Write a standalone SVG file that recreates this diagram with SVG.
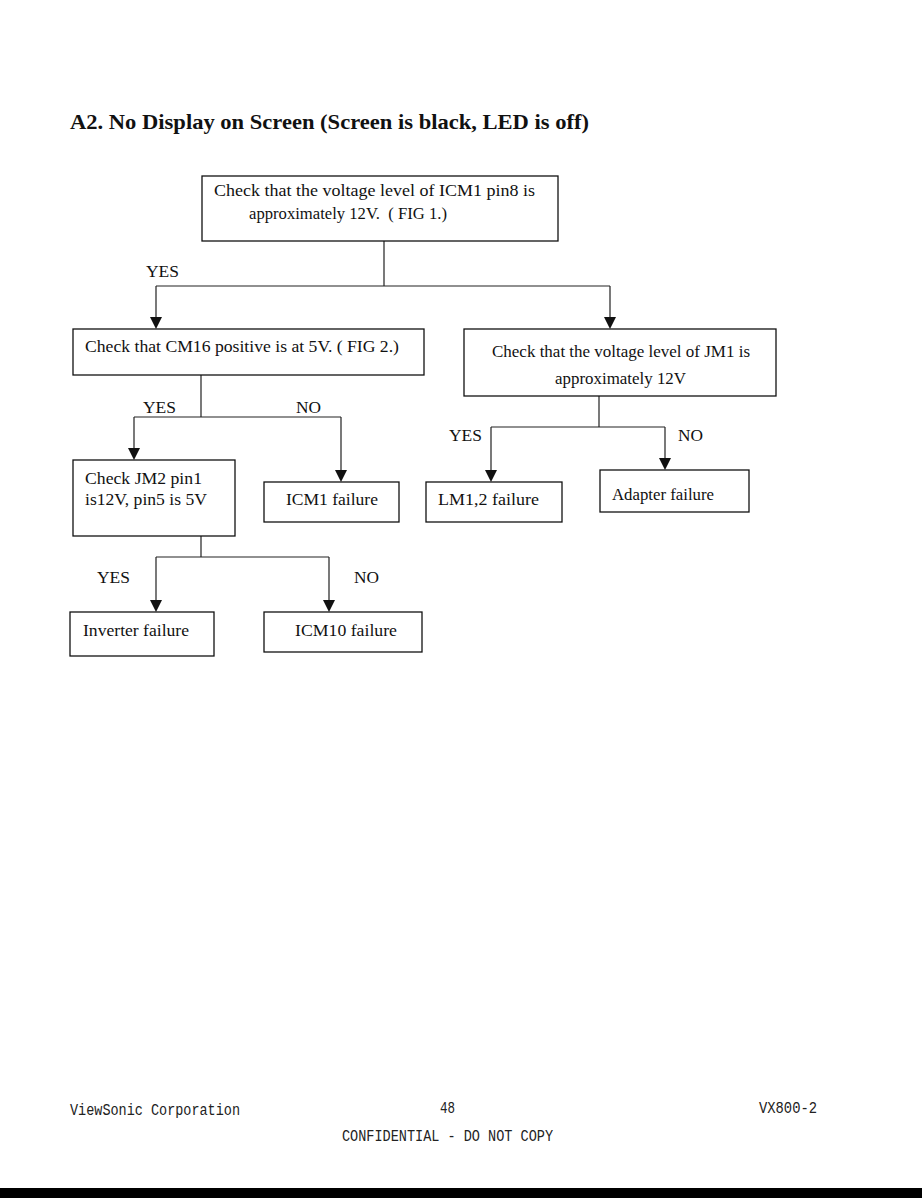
<svg xmlns="http://www.w3.org/2000/svg" width="922" height="1198" viewBox="0 0 922 1198">
<defs>
<style>
.box{fill:#fff;stroke:#111;stroke-width:1.3}
.t{font-family:"Liberation Serif","Times New Roman",serif;font-size:17.5px;fill:#111}
.lbl{font-family:"Liberation Serif","Times New Roman",serif;font-size:17.5px;fill:#111}
.ln{fill:none;stroke:#222;stroke-width:1.2}
.ah{fill:#111}
.ft{font-family:"Liberation Mono","Courier New",monospace;font-size:16px;fill:#222}
</style>
</defs>
<rect width="922" height="1198" fill="#fff"/>
<text x="70" y="129" font-family="Liberation Serif,'Times New Roman',serif" font-size="22" font-weight="bold" fill="#111" textLength="519" lengthAdjust="spacingAndGlyphs">A2. No Display on Screen (Screen is black, LED is off)</text>

<g id="connectors">
<path class="ln" d="M384,241 V286 M156,286 H610 M156,286 V317 M610,286 V317"/>
<path class="ah" d="M150,317 L162,317 L156,329 Z"/>
<path class="ah" d="M604,317 L616,317 L610,329 Z"/>

<path class="ln" d="M201,375 V417 M134,417 H341 M134,417 V448 M341,417 V470"/>
<path class="ah" d="M128,448 L140,448 L134,460 Z"/>
<path class="ah" d="M335,470 L347,470 L341,482 Z"/>

<path class="ln" d="M599,396 V427 M491,427 H665 M491,427 V470 M665,427 V458"/>
<path class="ah" d="M485,470 L497,470 L491,482 Z"/>
<path class="ah" d="M659,458 L671,458 L665,470 Z"/>

<path class="ln" d="M201,536 V557 M156,557 H329 M156,557 V600 M329,557 V600"/>
<path class="ah" d="M150,600 L162,600 L156,612 Z"/>
<path class="ah" d="M323,600 L335,600 L329,612 Z"/>

<text class="lbl" x="146" y="277" textLength="33" lengthAdjust="spacingAndGlyphs">YES</text>
<text class="lbl" x="143" y="413" textLength="33" lengthAdjust="spacingAndGlyphs">YES</text>
<text class="lbl" x="296" y="413" textLength="25" lengthAdjust="spacingAndGlyphs">NO</text>
<text class="lbl" x="449" y="441" textLength="33" lengthAdjust="spacingAndGlyphs">YES</text>
<text class="lbl" x="678" y="441" textLength="25" lengthAdjust="spacingAndGlyphs">NO</text>
<text class="lbl" x="97" y="583" textLength="33" lengthAdjust="spacingAndGlyphs">YES</text>
<text class="lbl" x="354" y="583" textLength="25" lengthAdjust="spacingAndGlyphs">NO</text>
</g>

<g id="n1">
<rect class="box" x="202" y="176" width="356" height="65"/>
<text class="t" x="214" y="196" textLength="321" lengthAdjust="spacingAndGlyphs">Check that the voltage level of ICM1 pin8 is</text>
<text class="t" x="249" y="219" textLength="198" lengthAdjust="spacingAndGlyphs" xml:space="preserve">approximately 12V.  ( FIG 1.)</text>
</g>
<g id="n2">
<rect class="box" x="73" y="329" width="351" height="46"/>
<text class="t" x="85" y="352" textLength="314" lengthAdjust="spacingAndGlyphs">Check that CM16 positive is at 5V. ( FIG 2.)</text>
</g>
<g id="n3">
<rect class="box" x="464" y="329" width="312" height="67"/>
<text class="t" x="492" y="357" textLength="258" lengthAdjust="spacingAndGlyphs">Check that the voltage level of JM1 is</text>
<text class="t" x="555" y="384" textLength="131" lengthAdjust="spacingAndGlyphs">approximately 12V</text>
</g>
<g id="n4">
<rect class="box" x="73" y="460" width="162" height="76"/>
<text class="t" x="85" y="484" textLength="117" lengthAdjust="spacingAndGlyphs">Check JM2 pin1</text>
<text class="t" x="85" y="505" textLength="122" lengthAdjust="spacingAndGlyphs">is12V, pin5 is 5V</text>
</g>
<g id="n5">
<rect class="box" x="264" y="482" width="135" height="40"/>
<text class="t" x="286" y="505" textLength="92" lengthAdjust="spacingAndGlyphs">ICM1 failure</text>
</g>
<g id="n6">
<rect class="box" x="426" y="482" width="136" height="40"/>
<text class="t" x="438" y="505" textLength="101" lengthAdjust="spacingAndGlyphs">LM1,2 failure</text>
</g>
<g id="n7">
<rect class="box" x="600" y="470" width="149" height="42"/>
<text class="t" x="612" y="500" textLength="102" lengthAdjust="spacingAndGlyphs">Adapter failure</text>
</g>
<g id="n8">
<rect class="box" x="70" y="612" width="144" height="44"/>
<text class="t" x="83" y="636" textLength="106" lengthAdjust="spacingAndGlyphs">Inverter failure</text>
</g>
<g id="n9">
<rect class="box" x="264" y="612" width="158" height="40"/>
<text class="t" x="295" y="636" textLength="102" lengthAdjust="spacingAndGlyphs">ICM10 failure</text>
</g>

<text class="ft" x="70" y="1115" textLength="170" lengthAdjust="spacingAndGlyphs">ViewSonic Corporation</text>
<text class="ft" x="440" y="1113" textLength="15" lengthAdjust="spacingAndGlyphs">48</text>
<text class="ft" x="759" y="1113" textLength="58" lengthAdjust="spacingAndGlyphs">VX800-2</text>
<text class="ft" x="342" y="1141" textLength="211" lengthAdjust="spacingAndGlyphs">CONFIDENTIAL - DO NOT COPY</text>
<rect x="0" y="1188" width="922" height="10" fill="#000"/>
</svg>
